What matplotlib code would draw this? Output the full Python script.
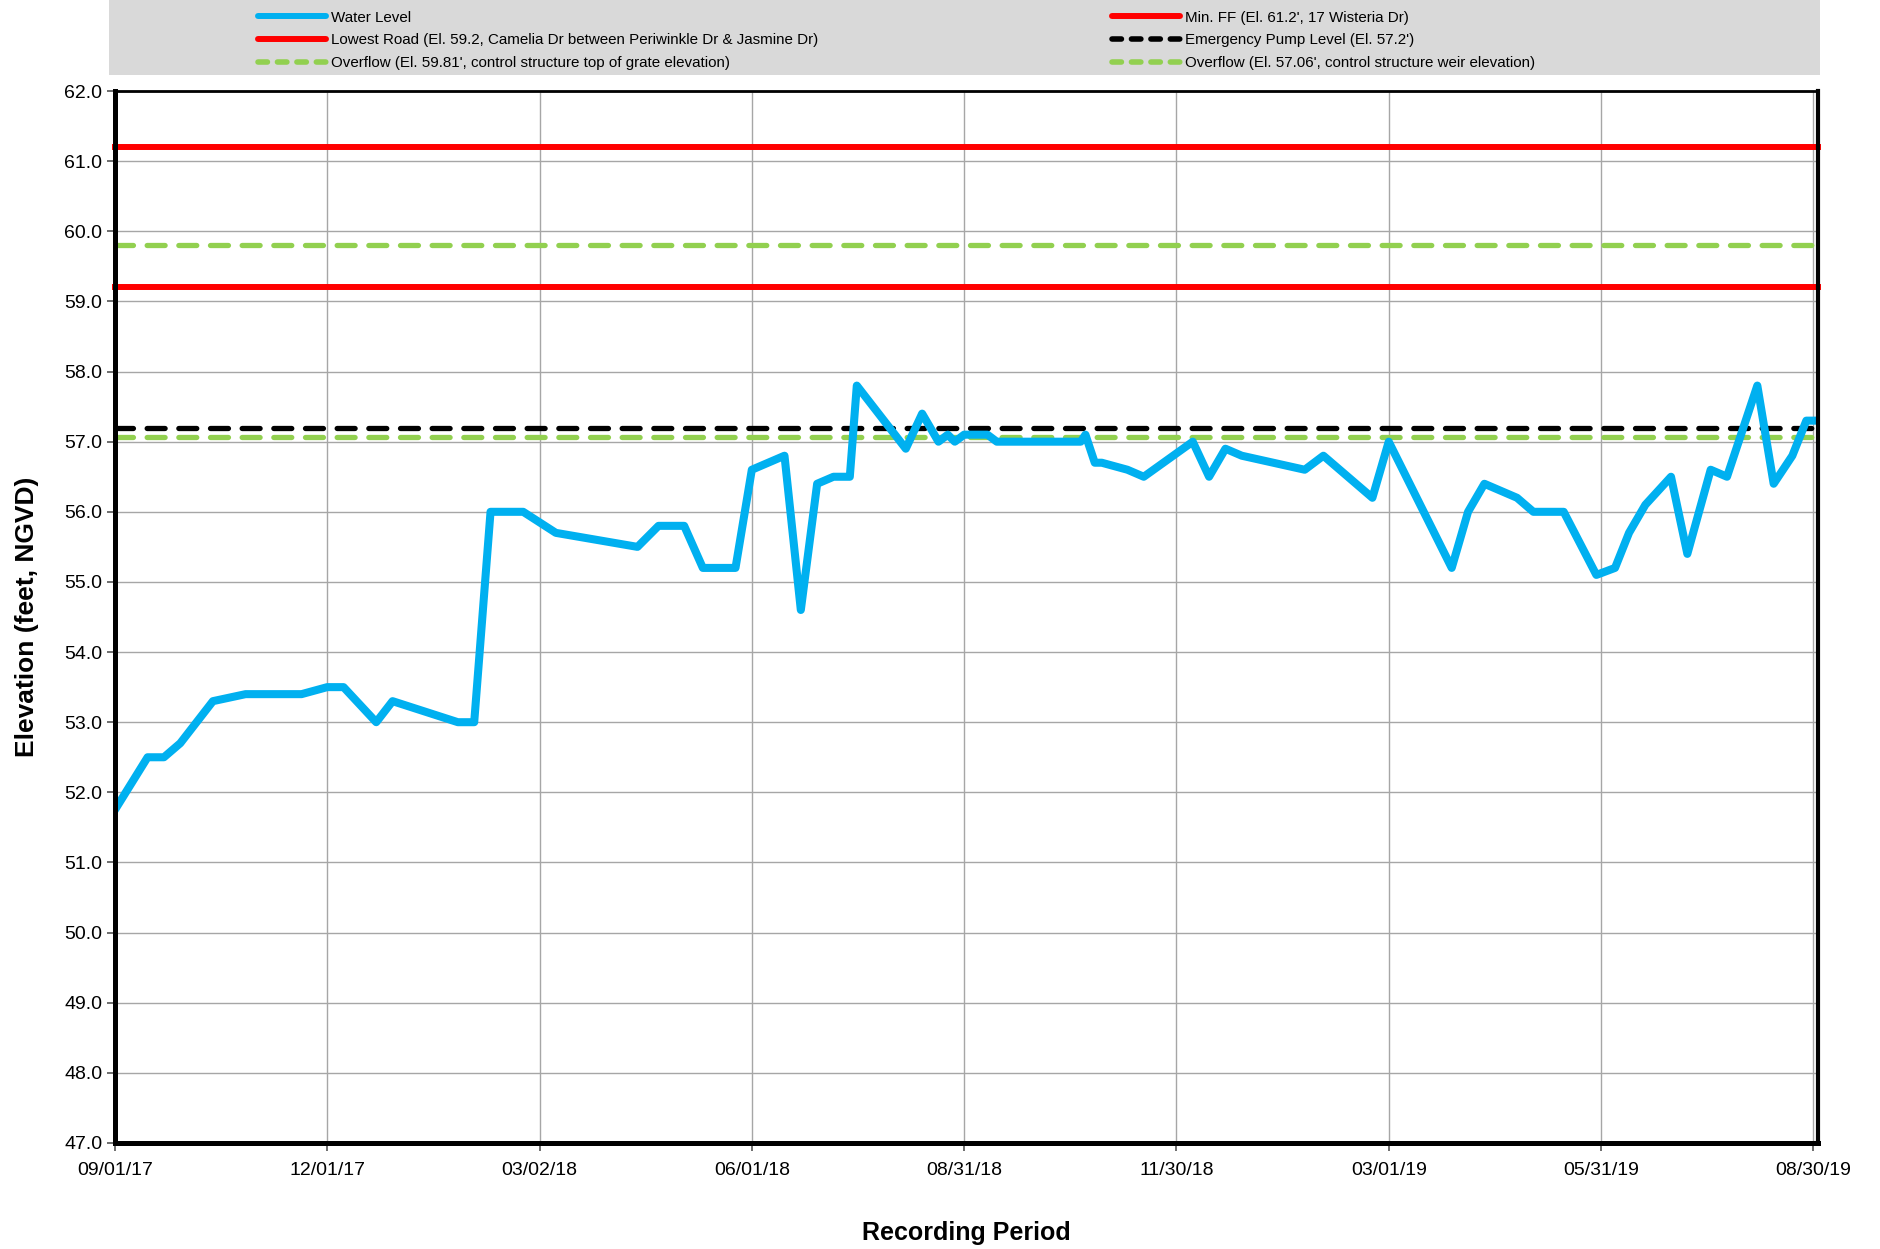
import pandas as pd
import matplotlib
matplotlib.use('Agg')
import matplotlib.pyplot as plt
import matplotlib.dates as mdates
from matplotlib.lines import Line2D
from matplotlib.patches import Rectangle

plt.rcParams['font.family'] = ['Liberation Sans', 'DejaVu Sans']

# water level readings (date, elevation ft NGVD)
dates = ['2017-09-01', '2017-09-15', '2017-09-22', '2017-09-29', '2017-10-13',
         '2017-10-27', '2017-11-20', '2017-12-01', '2017-12-08', '2017-12-22',
         '2017-12-29', '2018-01-26', '2018-02-02', '2018-02-09', '2018-02-23',
         '2018-03-09', '2018-04-13', '2018-04-22', '2018-05-03', '2018-05-11',
         '2018-05-25', '2018-06-01', '2018-06-15', '2018-06-22', '2018-06-29',
         '2018-07-06', '2018-07-13', '2018-07-16', '2018-08-06', '2018-08-13',
         '2018-08-20', '2018-08-24', '2018-08-27', '2018-08-31', '2018-09-10',
         '2018-09-14', '2018-10-20', '2018-10-22', '2018-10-26', '2018-10-29',
         '2018-11-09', '2018-11-16', '2018-12-07', '2018-12-14', '2018-12-21',
         '2018-12-28', '2019-01-24', '2019-02-01', '2019-02-22', '2019-03-01',
         '2019-03-28', '2019-04-04', '2019-04-11', '2019-04-25', '2019-05-02',
         '2019-05-15', '2019-05-29', '2019-06-06', '2019-06-12', '2019-06-19',
         '2019-06-30', '2019-07-07', '2019-07-17', '2019-07-24', '2019-08-06',
         '2019-08-13', '2019-08-21', '2019-08-27', '2019-08-30']
levels = [51.75, 52.5, 52.5, 52.7, 53.3,
          53.4, 53.4, 53.5, 53.5, 53.0,
          53.3, 53.0, 53.0, 56.0, 56.0,
          55.7, 55.5, 55.8, 55.8, 55.2,
          55.2, 56.6, 56.8, 54.6, 56.4,
          56.5, 56.5, 57.8, 56.9, 57.4,
          57.0, 57.1, 57.0, 57.1, 57.1,
          57.0, 57.0, 57.1, 56.7, 56.7,
          56.6, 56.5, 57.0, 56.5, 56.9,
          56.8, 56.6, 56.8, 56.2, 57.0,
          55.2, 56.0, 56.4, 56.2, 56.0,
          56.0, 55.1, 55.2, 55.7, 56.1,
          56.5, 55.4, 56.6, 56.5, 57.8,
          56.4, 56.8, 57.3, 57.3]

# reference elevations
min_ff = 61.2
lowest_road = 59.2
overflow_grate = 59.81
pump_level = 57.2
overflow_weir = 57.06

tick_labels = ['09/01/17', '12/01/17', '03/02/18', '06/01/18', '08/31/18',
               '11/30/18', '03/01/19', '05/31/19', '08/30/19']

df = pd.DataFrame({'date': pd.to_datetime(dates), 'level': levels})
ticks = pd.to_datetime(tick_labels, format='%m/%d/%y')

fig = plt.figure(figsize=(18.81, 12.49), dpi=100)
ax = fig.add_axes([0.0611, 0.0849, 0.9054, 0.8422])

blue = '#00b0f0'
red = '#ff0000'
green = '#92d050'
dash = (0, (3.4, 2.6))

ax.axhline(min_ff, color=red, lw=4.3, zorder=3, clip_on=False)
ax.axhline(lowest_road, color=red, lw=4.3, zorder=3, clip_on=False)
ax.axhline(overflow_grate, color=green, lw=3.8, ls=dash, dash_capstyle='round', zorder=3)
ax.axhline(pump_level, color='black', lw=3.8, ls=dash, dash_capstyle='round', zorder=3)
ax.axhline(overflow_weir, color=green, lw=3.8, ls=dash, dash_capstyle='round', zorder=3)
ax.plot(df['date'], df['level'], color=blue, lw=5.8, zorder=4)

ax.set_ylim(47, 62)
ax.set_yticks(range(47, 63))
ax.yaxis.set_major_formatter(plt.FormatStrFormatter('%.1f'))
ax.set_xlim(pd.Timestamp('2017-09-01'), pd.Timestamp('2019-09-01'))
ax.set_xticks(ticks)
ax.xaxis.set_major_formatter(mdates.DateFormatter('%m/%d/%y'))

ax.grid(True, color='#a6a6a6', lw=1.0, zorder=0)
ax.set_axisbelow(True)
ax.tick_params(axis='both', direction='out', length=6, width=1.2, color='#555555')
ax.tick_params(axis='y', labelsize=14, pad=3)
ax.tick_params(axis='x', labelsize=14, pad=8)

for side, w in [('left', 3.6), ('right', 3.0), ('bottom', 3.6), ('top', 2.0)]:
    ax.spines[side].set_linewidth(w)
    ax.spines[side].set_color('black')
    ax.spines[side].set_zorder(5)

ax.set_ylabel('Elevation (feet, NGVD)', fontsize=19, fontweight='bold', labelpad=18)
ax.set_xlabel('Recording Period', fontsize=18, fontweight='bold', labelpad=30)

# gray legend band
fig.patches.append(Rectangle((109 / 1881, 1 - 75 / 1249), (1820 - 109) / 1881, 75 / 1249,
                             transform=fig.transFigure, facecolor='#d9d9d9',
                             edgecolor='none', zorder=0))

leg_dash = (0, (1.7, 1.8))
h1 = [Line2D([], [], color=blue, lw=4.3, solid_capstyle='round'),
      Line2D([], [], color=red, lw=4.3, solid_capstyle='round'),
      Line2D([], [], color=green, lw=4.0, ls=leg_dash, dash_capstyle='round')]
l1 = ['Water Level',
      'Lowest Road (El. 59.2, Camelia Dr between Periwinkle Dr & Jasmine Dr)',
      "Overflow (El. 59.81', control structure top of grate elevation)"]
h2 = [Line2D([], [], color=red, lw=4.3, solid_capstyle='round'),
      Line2D([], [], color='black', lw=4.0, ls=leg_dash, dash_capstyle='round'),
      Line2D([], [], color=green, lw=4.0, ls=leg_dash, dash_capstyle='round')]
l2 = ["Min. FF (El. 61.2', 17 Wisteria Dr)",
      "Emergency Pump Level (El. 57.2')",
      "Overflow (El. 57.06', control structure weir elevation)"]

for hs, ls_, x0 in [(h1, l1, 250), (h2, l2, 1104)]:
    fig.legend(hs, ls_, loc='upper left', bbox_to_anchor=(x0 / 1881, 1 - 3 / 1249),
               frameon=False, borderpad=0, handlelength=4.5, handletextpad=0.35,
               labelspacing=0.58, prop={'size': 10.9})

fig.savefig('out.png', dpi=100)
